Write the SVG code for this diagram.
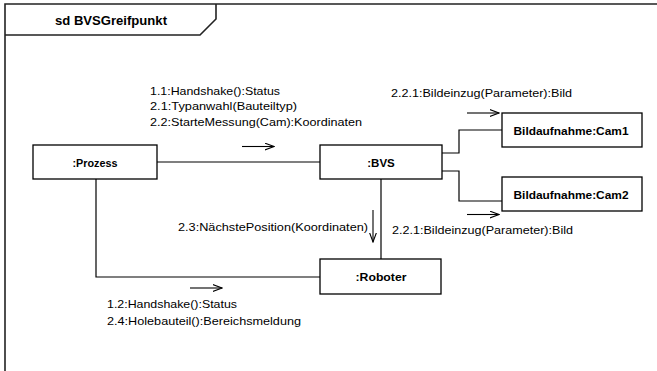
<svg xmlns="http://www.w3.org/2000/svg" width="657" height="371" viewBox="0 0 657 371">
<defs>
<marker id="open" viewBox="0 0 10 8" refX="9.5" refY="4" markerWidth="10" markerHeight="8" markerUnits="userSpaceOnUse" orient="auto">
<path d="M0,0.5 L9.5,4 L0,7.5" fill="none" stroke="#000" stroke-width="1.1"/>
</marker>
</defs>
<style>
.frame{fill:none;stroke:#222;stroke-width:1.6}
.node rect{fill:#fff;stroke:#000;stroke-width:1.3}
.node text{font-family:"Liberation Sans",Arial,sans-serif;font-weight:bold;font-size:11.5px;text-anchor:middle;fill:#000}
.conn{fill:none;stroke:#000;stroke-width:1.2}
.msg{fill:none;stroke:#000;stroke-width:1.1;marker-end:url(#open)}
.lbl{font-family:"Liberation Sans",Arial,sans-serif;font-size:11.5px;fill:#000}
.title{font-family:"Liberation Sans",Arial,sans-serif;font-weight:bold;font-size:12px;text-anchor:middle;fill:#000}
</style>
<rect width="657" height="371" fill="#fff"/>
<g id="frame">
<path class="frame" d="M5,371 V4 H657"/>
<path class="frame" d="M5,35 H200 L216,19 V4"/>
<text class="title" x="111" y="25" textLength="112" lengthAdjust="spacingAndGlyphs">sd BVSGreifpunkt</text>
</g>
<g id="connectors">
<path class="conn" d="M157,162 H320"/>
<path class="conn" d="M442,153 H459 V130 H502"/>
<path class="conn" d="M442,171 H459 V201 H502"/>
<path class="conn" d="M381,179 V259"/>
<path class="conn" d="M96,179 V277 H320"/>
<path class="msg" d="M242,146.5 H274"/>
<path class="msg" d="M467,113 H499"/>
<path class="msg" d="M467,214.5 H499"/>
<path class="msg" d="M373,210 V242"/>
<path class="msg" d="M190,288 H222"/>
<text class="lbl" x="150" y="95" textLength="130" lengthAdjust="spacingAndGlyphs">1.1:Handshake():Status</text>
<text class="lbl" x="150" y="110" textLength="147" lengthAdjust="spacingAndGlyphs">2.1:Typanwahl(Bauteiltyp)</text>
<text class="lbl" x="150" y="126" textLength="212" lengthAdjust="spacingAndGlyphs">2.2:StarteMessung(Cam):Koordinaten</text>
<text class="lbl" x="391" y="97" textLength="181" lengthAdjust="spacingAndGlyphs">2.2.1:Bildeinzug(Parameter):Bild</text>
<text class="lbl" x="392" y="234" textLength="181" lengthAdjust="spacingAndGlyphs">2.2.1:Bildeinzug(Parameter):Bild</text>
<text class="lbl" x="178" y="231" textLength="190" lengthAdjust="spacingAndGlyphs">2.3:NächstePosition(Koordinaten)</text>
<text class="lbl" x="107" y="308" textLength="130" lengthAdjust="spacingAndGlyphs">1.2:Handshake():Status</text>
<text class="lbl" x="107" y="325" textLength="194" lengthAdjust="spacingAndGlyphs">2.4:Holebauteil():Bereichsmeldung</text>
</g>
<g id="prozess" class="node">
<rect x="33" y="145" width="124" height="34"/>
<text x="95" y="166.5" textLength="45" lengthAdjust="spacingAndGlyphs">:Prozess</text>
</g>
<g id="bvs" class="node">
<rect x="320" y="145" width="122" height="34"/>
<text x="381" y="166.5">:BVS</text>
</g>
<g id="cam1" class="node">
<rect x="502" y="113" width="140" height="34"/>
<text x="571" y="134.5" textLength="115" lengthAdjust="spacingAndGlyphs">Bildaufnahme:Cam1</text>
</g>
<g id="cam2" class="node">
<rect x="502" y="177" width="140" height="34"/>
<text x="571" y="198.5" textLength="115" lengthAdjust="spacingAndGlyphs">Bildaufnahme:Cam2</text>
</g>
<g id="roboter" class="node">
<rect x="320" y="259" width="121" height="35"/>
<text x="381" y="281" textLength="51" lengthAdjust="spacingAndGlyphs">:Roboter</text>
</g>
</svg>
